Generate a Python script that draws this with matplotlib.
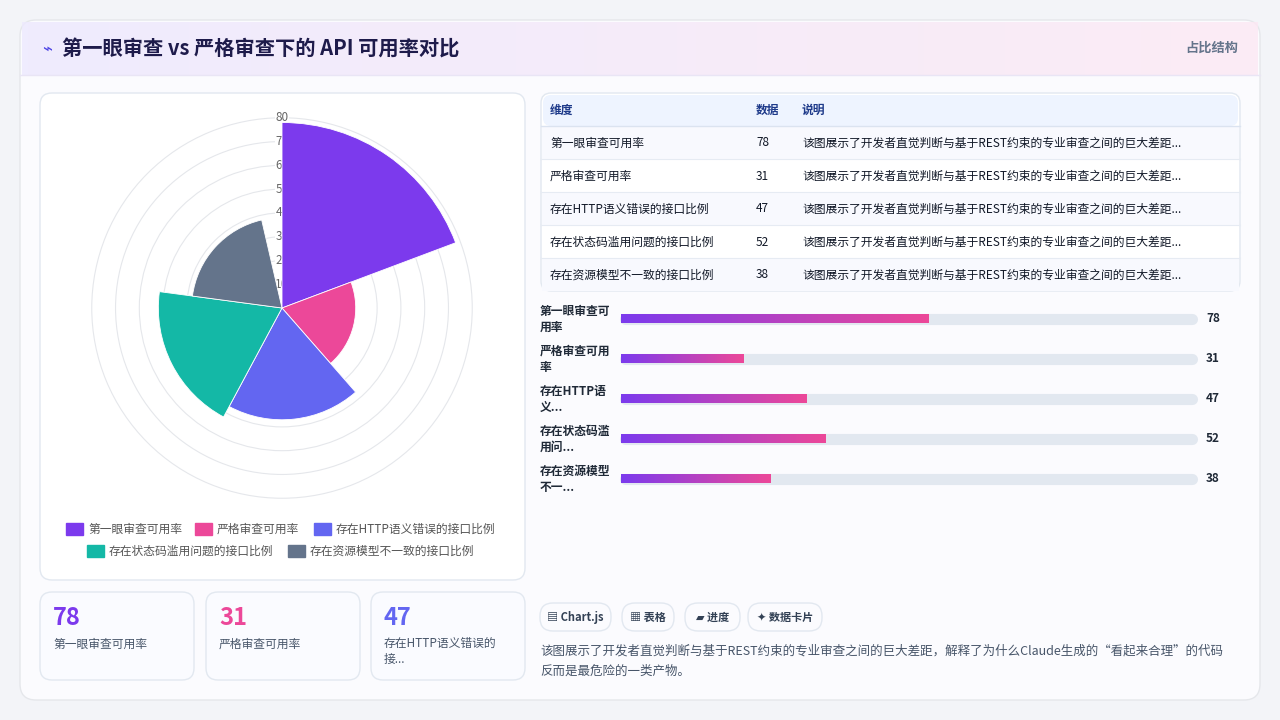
import numpy as np
import matplotlib.pyplot as plt
from matplotlib.patches import FancyBboxPatch
from matplotlib.colors import LinearSegmentedColormap

plt.rcParams['font.family'] = ['Noto Sans CJK SC', 'DejaVu Sans']

title = "第一眼审查 vs 严格审查下的 API 可用率对比"
categories = ["第一眼审查可用率", "严格审查可用率", "存在HTTP语义错误的接口比例",
              "存在状态码滥用问题的接口比例", "存在资源模型不一致的接口比例"]
short_labels = ["第一眼审查可\n用率", "严格审查可用\n率", "存在HTTP语\n义...", "存在状态码滥\n用问...", "存在资源模型\n不一..."]
values = [78, 31, 47, 52, 38]
colors = ["#7c3aed", "#ec4899", "#6366f1", "#14b8a6", "#64748b"]
note = "该图展示了开发者直觉判断与基于REST约束的专业审查之间的巨大差距..."
summary = ["该图展示了开发者直觉判断与基于REST约束的专业审查之间的巨大差距，解释了为什么Claude生成的“看起来合理”的代码",
           "反而是最危险的一类产物。"]
kpi_labels = ["第一眼审查可用率", "严格审查可用率", "存在HTTP语义错误的\n接..."]
chips = ["▤ Chart.js", "▦ 表格", "▰ 进度", "✦ 数据卡片"]

W, H = 1280, 720
fig = plt.figure(figsize=(12.8, 7.2), dpi=100)
fig.patch.set_facecolor("#f3f4f8")
bg = fig.add_axes([0, 0, 1, 1])
bg.set_xlim(0, W)
bg.set_ylim(H, 0)
bg.axis("off")


def card(x0, y0, x1, y1, fc="white", ec="#e2e8f0", r=12, lw=1, z=1):
    bg.add_patch(FancyBboxPatch((x0 + r, y0 + r), x1 - x0 - 2 * r, y1 - y0 - 2 * r,
                                boxstyle=f"round,pad={r}", fc=fc, ec=ec, lw=lw, zorder=z))


# outer card and header
card(20, 20, 1260, 700, fc="#fbfbfe", ec="#e5e7eb", r=16)
hdr = LinearSegmentedColormap.from_list("h", ["#ede9fe", "#fce7f3"])
bg.imshow(np.linspace(0, 1, 200)[None, :], cmap=hdr, extent=(22, 1258, 75, 22),
          aspect="auto", zorder=1.5, alpha=0.8)
bg.plot([20, 1260], [75, 75], color="#e9e5f5", lw=1, zorder=2)
bg.text(42, 49, "⌁", fontsize=12, color="#4f46e5", va="center", zorder=3)
bg.text(62, 49, title, fontsize=14.6, fontweight="bold", color="#1e1b4b", va="center", zorder=3)
bg.text(1238, 48, "占比结构", fontsize=9.5, fontweight="bold", color="#64748b", ha="right", va="center", zorder=3)

# chart card
card(40, 93, 525, 580)

# polar area chart
cx, cy, rad = 282, 308, 195
pax = fig.add_axes([(cx - rad) / W, (H - cy - rad) / H, 2 * rad / W, 2 * rad / H], projection="polar")
pax.set_theta_zero_location("N")
pax.set_theta_direction(-1)
n = len(values)
wid = np.deg2rad(69.4)
theta = np.arange(n) * wid + wid / 2
pax.bar(theta, values, width=wid, color=colors, edgecolor="white", linewidth=0.6, zorder=3)
pax.set_ylim(0, 82)
pax.set_yticks(range(10, 81, 10))
pax.set_yticklabels([])
pax.set_xticks([])
pax.grid(True, color="#e5e7eb", lw=0.8)
pax.spines["polar"].set_visible(False)
pax.set_facecolor("white")
for v in range(10, 81, 10):
    pax.text(0, v, str(v), ha="center", va="center", fontsize=8.5, color="#666666", zorder=2,
             bbox=dict(fc="white", ec="none", pad=0.5))

# legend
leg_rows = [[0, 1, 2], [3, 4]]
leg_x = [[66, 195, 314], [87, 288]]
leg_y = [529, 551]
for row, xs, y in zip(leg_rows, leg_x, leg_y):
    for i, x in zip(row, xs):
        bg.add_patch(plt.Rectangle((x, y - 6), 17, 12, color=colors[i], zorder=3))
        bg.text(x + 22, y, categories[i], fontsize=8.5, fontweight="medium", color="#555555",
                va="center", zorder=3)

# KPI cards
kpi_x = [40, 206, 371]
for i, x in enumerate(kpi_x):
    card(x, 592, x + 154, 680, fc="#fafbff")
    bg.text(x + 13, 618, str(values[i]), fontsize=17, fontweight="bold", color=colors[i], va="center", zorder=3)
    bg.text(x + 13, 644 if i < 2 else 651, kpi_labels[i], fontsize=8.5, color="#475569",
            va="center", zorder=3, linespacing=1.3)

# table
card(541, 93, 1240, 291, r=10)
bg.add_patch(FancyBboxPatch((543, 95), 695, 31, boxstyle="round,pad=0,rounding_size=8",
                            fc="#eef4ff", ec="none", zorder=2))
bg.plot([541, 1240], [126, 126], color="#dbe3f0", lw=1, zorder=3)
for x, h in zip([550, 756, 802], ["维度", "数据", "说明"]):
    bg.text(x, 110, h, fontsize=8.5, fontweight="bold", color="#1e3a8a", va="center", zorder=3)
for i in range(n):
    y = 126 + 33 * i
    bg.add_patch(plt.Rectangle((542, y), 697, 33, fc="#f8f9fe" if i % 2 == 0 else "white",
                               ec="none", zorder=2))
    if i > 0:
        bg.plot([541, 1240], [y, y], color="#e6ebf3", lw=0.8, zorder=3)
    for x, t in zip([550, 756, 802], [categories[i], str(values[i]), note]):
        bg.text(x, y + 17, t, fontsize=8.5, fontweight="medium", color="#111827", va="center", zorder=3)

# progress bars
grad = LinearSegmentedColormap.from_list("g", ["#7c3aed", "#ec4899"])
bar_x0, bar_x1 = 621, 1196
bar_max = 146
for i in range(n):
    y = 319 + 40 * i
    bg.plot([bar_x0 + 4, bar_x1 - 4], [y, y], color="#e2e8f0", lw=8, solid_capstyle="round", zorder=2)
    xe = bar_x0 + (bar_x1 - bar_x0) * values[i] / bar_max
    bg.imshow(np.linspace(0, 1, 100)[None, :], cmap=grad, extent=(bar_x0, xe, y + 4.5, y - 4.5),
              aspect="auto", zorder=3)
    bg.text(540, y, short_labels[i], fontsize=8.5, fontweight="bold", color="#1f2937",
            va="center", zorder=3, linespacing=1.3)
    bg.text(1206, y, str(values[i]), fontsize=8.5, fontweight="bold", color="#1f2937", va="center", zorder=3)

# chips
chip_x = [(540, 611), (622, 674), (685, 740), (748, 822)]
for (x0, x1), c in zip(chip_x, chips):
    card(x0, 603, x1, 631, fc="#fbfbfe", ec="#e2e8f0", r=13)
    bg.text((x0 + x1) / 2, 617, c, fontsize=8, fontweight="bold", color="#334155",
            ha="center", va="center", zorder=3)
for j, line in enumerate(summary):
    bg.text(540, 651 + 20 * j, line, fontsize=9, fontweight="medium", color="#475569", va="center", zorder=3)

bg.set_xlim(0, W)
bg.set_ylim(H, 0)
fig.savefig("out.png", dpi=100, facecolor=fig.get_facecolor())
